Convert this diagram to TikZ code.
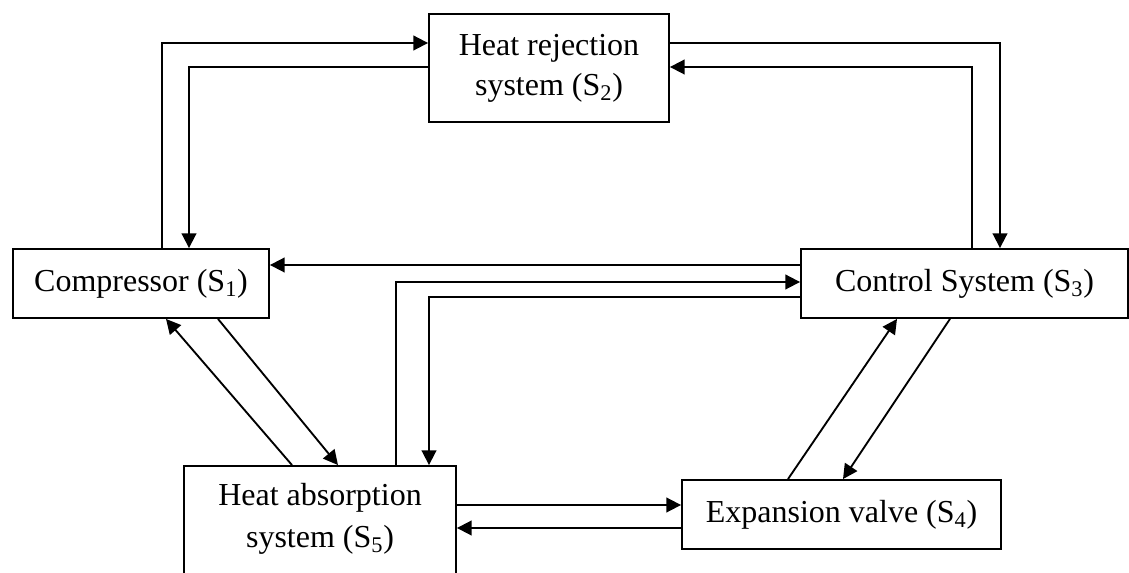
\documentclass[tikz,border=0pt]{standalone}
\usepackage{fontspec}
\setmainfont{Liberation Serif}
\usetikzlibrary{arrows.meta}
\tikzset{
  box/.style={draw, line width=1.4pt, rectangle, inner sep=0pt, align=center,
    font=\fontsize{24}{30}\selectfont},
  lbl/.style={inner sep=0pt, align=center, font=\fontsize{24}{32}\selectfont},
  arr/.style={line width=1.4pt, -{Triangle[length=11pt,width=11pt]}}
}
\begin{document}
\begin{tikzpicture}[x=0.75pt,y=-0.75pt]
\useasboundingbox (0,0) rectangle (1129,573);
\clip (0,0) rectangle (1129,573);
% boxes
\node[box, minimum width=192pt, minimum height=51.75pt] (comp) at (141,283.5) {Compressor (S\textsubscript{1})};
\node[box, minimum width=180pt, minimum height=81pt] (s2) at (549,68) {Heat rejection\\system (S\textsubscript{2})};
\node[box, minimum width=245.25pt, minimum height=51.75pt] (ctrl) at (964.5,283.5) {Control System (S\textsubscript{3})};
\node[box, minimum width=239.25pt, minimum height=51.75pt] (exp) at (841.5,514.5) {Expansion valve (S\textsubscript{4})};
\node[box, minimum width=204pt, minimum height=100.5pt] (ha) at (320,533) {};
\node[lbl] (hatext) at (320,519) {Heat absorption\\system (S\textsubscript{5})};
% connectors
\draw[arr] (162,0 |- comp.north) |- (s2.west |- 0,43);
\draw[arr] (s2.west |- 0,67) -| (189,0 |- comp.north);
\draw[arr] (s2.east |- 0,43) -| (1000,0 |- ctrl.north);
\draw[arr] (972,0 |- ctrl.north) |- (s2.east |- 0,67);
\draw[arr] (ctrl.west |- 0,265) -- (comp.east |- 0,265);
\draw[arr] (396,0 |- ha.north) |- (ctrl.west |- 0,282);
\draw[arr] (ctrl.west |- 0,297) -| (429,0 |- ha.north);
\draw[arr] (292,0 |- ha.north) -- (166,0 |- comp.south);
\draw[arr] (218,0 |- comp.south) -- (338,0 |- ha.north);
\draw[arr] (788,0 |- exp.north) -- (897,0 |- ctrl.south);
\draw[arr] (950,0 |- ctrl.south) -- (843,0 |- exp.north);
\draw[arr] (ha.east |- 0,505) -- (exp.west |- 0,505);
\draw[arr] (exp.west |- 0,528) -- (ha.east |- 0,528);
\end{tikzpicture}
\end{document}
